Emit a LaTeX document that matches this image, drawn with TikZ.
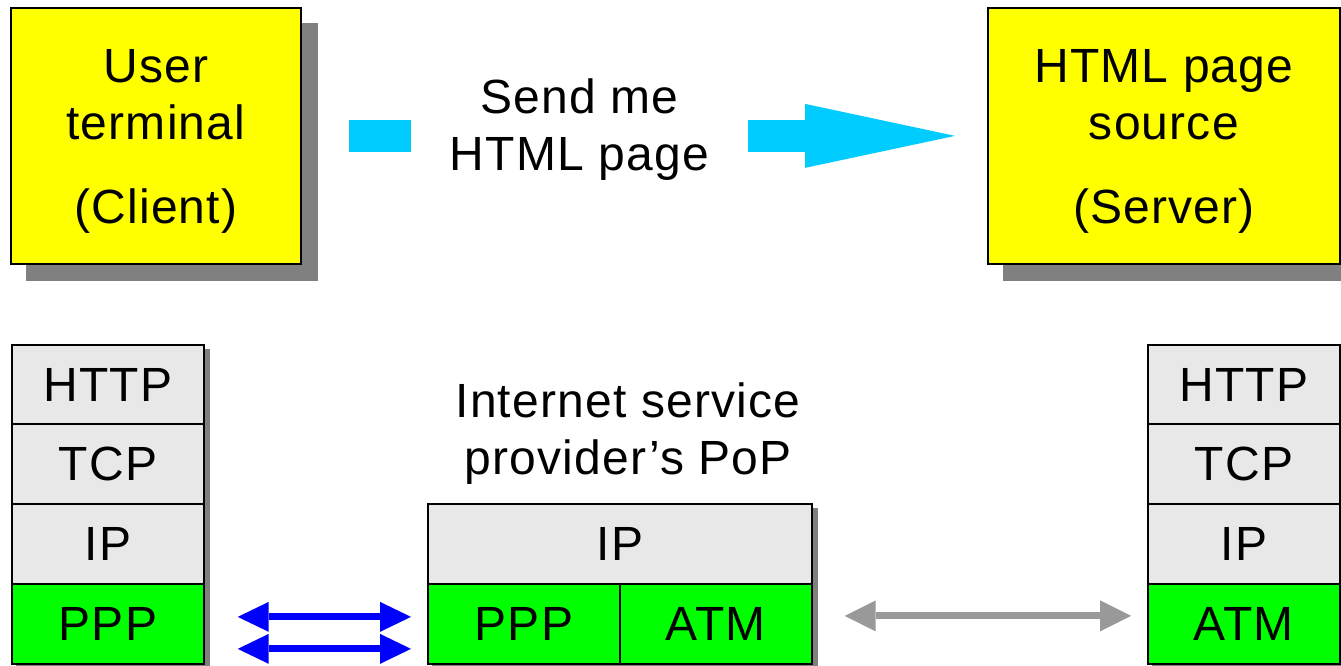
\documentclass[tikz,border=0pt]{standalone}
\usepackage{fontspec}
\setmainfont[LetterSpace=2.5]{Liberation Sans}
\usetikzlibrary{arrows.meta,backgrounds}
\definecolor{boxyellow}{HTML}{FFFF00}
\definecolor{linkgreen}{HTML}{00FF00}
\definecolor{layergrey}{HTML}{E8E8E8}
\definecolor{shadowgrey}{HTML}{808080}
\definecolor{reqcyan}{HTML}{00CCFF}
\definecolor{pppblue}{HTML}{0000FF}
\definecolor{atmgrey}{HTML}{999999}
\begin{document}
\begin{tikzpicture}[x=0.75pt,y=-0.75pt,
  lbl/.style={font=\fontsize{36}{42.75}\selectfont, align=center},
  bigbox/.style={draw=black, line width=1.3pt, fill=boxyellow, anchor=north west,
    minimum height=256*0.75pt, inner sep=0pt, lbl, text height=139.5pt, text depth=7.5pt},
  layer/.style={draw=black, line width=1.3pt, anchor=north west,
    minimum width=192*0.75pt, minimum height=80*0.75pt, inner sep=0pt, lbl},
  upper/.style={layer, fill=layergrey},
  link/.style={layer, fill=linkgreen},
  bigshadow/.style={fill=shadowgrey},
  pppline/.style={draw=pppblue, line width=5.25pt,
    {Triangle[length=23.25pt,width=22.5pt,line width=0pt]}-{Triangle[length=23.25pt,width=22.5pt,line width=0pt]}},
  atmline/.style={draw=atmgrey, line width=5.25pt,
    {Triangle[length=23.25pt,width=23.25pt,line width=0pt]}-{Triangle[length=23.25pt,width=23.25pt,line width=0pt]}},
  request/.style={draw=reqcyan, line width=24pt,
    -{Triangle[length=112.5pt,width=48pt,line width=0pt]}}
]
\useasboundingbox (0,0) rectangle (1341,665);

% client and server
\node[bigbox, minimum width=290*0.75pt] (client) at (10,7) {User\\terminal\\[27*0.75pt](Client)};
\node[bigbox, minimum width=352*0.75pt] (server) at (987,7) {HTML page\\source\\[27*0.75pt](Server)};

% the request, with its label laid over the shaft
\draw[request] ([xshift=47*0.75pt]client.east) -- ([xshift=-32*0.75pt]server.west);
\node[lbl, fill=white, minimum width=337*0.75pt, minimum height=60*0.75pt, inner sep=0pt]
  (msg) at (579.5,130) {Send me\\HTML page};

% client protocol stack
\node[upper] (lhttp) at (11,344) {HTTP};
\node[upper] (ltcp)  at (11,423) {TCP};
\node[upper] (lip)   at (11,503) {IP};
\node[link]  (lppp)  at (11,583) {PPP};

% point of presence
\node[lbl] (pop) at (628,434) {Internet service\\provider’s PoP};
\node[upper, minimum width=384*0.75pt] (mip) at (427,503) {IP};
\node[link] (mppp) at (427,583) {PPP};
\node[link] (matm) at (619,583) {ATM};

% server protocol stack
\node[upper] (rhttp) at (1147,344) {HTTP};
\node[upper] (rtcp)  at (1147,423) {TCP};
\node[upper] (rip)   at (1147,503) {IP};
\node[link]  (ratm)  at (1147,583) {ATM};

% drop shadows
\begin{pgfonlayer}{background}
  \fill[bigshadow] ([shift={(16,16)}]client.north west) rectangle ([shift={(16,16)}]client.south east);
  \fill[bigshadow] ([shift={(16,16)}]server.north west) rectangle ([shift={(16,16)}]server.south east);
  \fill[bigshadow] ([shift={(5,5)}]lhttp.north west) rectangle ([shift={(5,5)}]lppp.south east);
  \fill[bigshadow] ([shift={(5,5)}]mip.north west) rectangle ([shift={(5,5)}]matm.south east);
  \fill[bigshadow] ([shift={(5,5)}]rhttp.north west) rectangle ([shift={(5,5)}]ratm.south east);
\end{pgfonlayer}

% links
\draw[pppline] ([shift={(33,-7)}]lppp.east) -- ([shift={(-16,-7)}]mppp.west);
\draw[pppline] ([shift={(33,25)}]lppp.east) -- ([shift={(-16,25)}]mppp.west);
\draw[atmline] ([shift={(32,-8)}]matm.east) -- ([shift={(-16,-8)}]ratm.west);
\end{tikzpicture}
\end{document}
